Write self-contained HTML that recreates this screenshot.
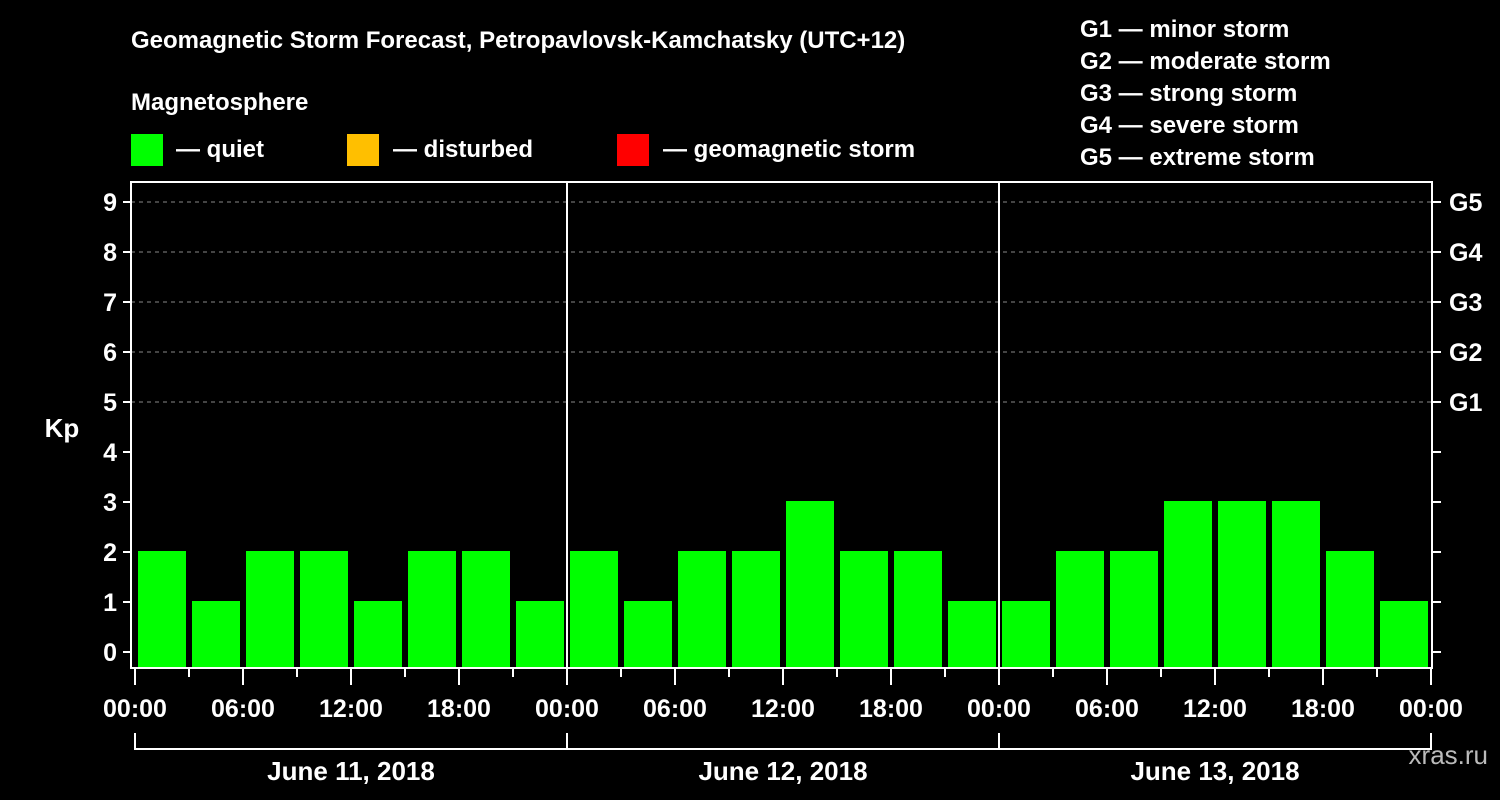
<!DOCTYPE html>
<html><head><meta charset="utf-8"><style>
html,body{margin:0;padding:0;background:#000;}
svg{display:block;font-family:"Liberation Sans",Arial,sans-serif;font-weight:bold;}
</style></head><body>
<svg id="c" width="1500" height="800" viewBox="0 0 1500 800">
<rect x="0" y="0" width="1500" height="800" fill="#000"/>
<text x="131" y="48" fill="#fff" font-size="24">Geomagnetic Storm Forecast, Petropavlovsk-Kamchatsky (UTC+12)</text>
<text x="131" y="110" fill="#fff" font-size="24">Magnetosphere</text>
<g><rect x="131" y="134" width="32" height="32" fill="#00ff00"/><text x="176" y="157" fill="#fff" font-size="24">— quiet</text></g>
<g><rect x="347" y="134" width="32" height="32" fill="#ffbf00"/><text x="393" y="157" fill="#fff" font-size="24">— disturbed</text></g>
<g><rect x="617" y="134" width="32" height="32" fill="#ff0000"/><text x="663" y="157" fill="#fff" font-size="24">— geomagnetic storm</text></g>
<g fill="#fff" font-size="24">
<text x="1080" y="37">G1 — minor storm</text>
<text x="1080" y="69">G2 — moderate storm</text>
<text x="1080" y="101">G3 — strong storm</text>
<text x="1080" y="133">G4 — severe storm</text>
<text x="1080" y="165">G5 — extreme storm</text>
</g>
<text x="62" y="437" fill="#fff" font-size="26" text-anchor="middle">Kp</text>
<text x="1488" y="764" fill="#bbb" font-size="26" text-anchor="end" font-weight="normal">xras.ru</text>
<g id="grid"></g><g id="bars"></g><g id="axes"></g>
</svg>
<script>
const days = ["June 11, 2018","June 12, 2018","June 13, 2018"];
const kpDay1 = [2,1,2,2,1,2,2,1];
const kpDay2 = [2,1,2,2,3,2,2,1];
const kpDay3 = [1,2,2,3,3,3,2,1];
const kpValues = kpDay1.concat(kpDay2, kpDay3);
const yTicks = [0,1,2,3,4,5,6,7,8,9];
const gLabels = ["G1","G2","G3","G4","G5"];
const hourLabels = ["00:00","06:00","12:00","18:00"];
const NS="http://www.w3.org/2000/svg";
const x0=135, dayW=432, slotW=dayW/8;
const X=i=>x0+i*slotW;
const Y=v=>652-v*50;
const color=v=>v>=5?"#ff0000":(v>=4?"#ffbf00":"#00ff00");
function mk(tag,attrs,parent){const e=document.createElementNS(NS,tag);for(const k in attrs)e.setAttribute(k,attrs[k]);parent.appendChild(e);return e;}
const grid=document.getElementById('grid'),bars=document.getElementById('bars'),axes=document.getElementById('axes');
for(let v=5;v<=9;v++){const l=mk('line',{x1:131,x2:1432,y1:Y(v),y2:Y(v),stroke:'#888','stroke-dasharray':'4,4','stroke-width':1},grid);

}
kpValues.forEach((v,i)=>{const r=mk('rect',{x:X(i)+3,y:Y(v)-1,width:slotW-6,height:668-Y(v)+1,fill:color(v)},bars);

});
// frame
const f=mk('path',{d:'M131,182 H1432 V668 H131 Z',fill:'none',stroke:'#fff','stroke-width':2},axes);


for(let d=1;d<3;d++){const l=mk('line',{x1:x0+d*dayW,x2:x0+d*dayW,y1:182,y2:668,stroke:'#fff','stroke-width':2},axes);

}
yTicks.forEach(v=>{mk('line',{x1:123,x2:131,y1:Y(v),y2:Y(v),stroke:'#fff','stroke-width':2},axes);
const t=mk('text',{x:117,y:Y(v)+9,fill:'#fff','font-size':25,'text-anchor':'end'},axes);t.textContent=v;


mk('line',{x1:1432,x2:1441,y1:Y(v),y2:Y(v),stroke:'#fff','stroke-width':2},axes);});
gLabels.forEach((g,i)=>{const t=mk('text',{x:1449,y:Y(5+i)+9,fill:'#fff','font-size':25},axes);t.textContent=g;

});
for(let i=0;i<=24;i++){const major=i%2===0;mk('line',{x1:X(i),x2:X(i),y1:668,y2:major?685:677,stroke:'#fff','stroke-width':2},axes);
if(major){const t=mk('text',{x:X(i),y:717,fill:'#fff','font-size':25,'text-anchor':'middle'},axes);t.textContent=hourLabels[(i/2)%4];

}}
mk('path',{d:`M${x0},733 V749 H${x0+3*dayW} V733`,fill:'none',stroke:'#fff','stroke-width':2},axes);
for(let d=1;d<3;d++)mk('line',{x1:x0+d*dayW,x2:x0+d*dayW,y1:733,y2:749,stroke:'#fff','stroke-width':2},axes);
days.forEach((d,i)=>{const t=mk('text',{x:x0+i*dayW+dayW/2,y:780,fill:'#fff','font-size':26,'text-anchor':'middle'},axes);t.textContent=d;

});
</script>
</body></html>
